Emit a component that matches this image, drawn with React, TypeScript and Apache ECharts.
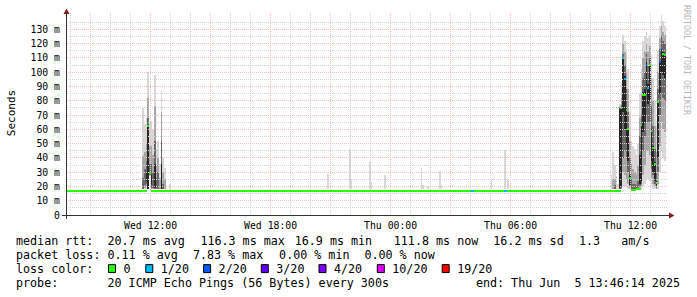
import { useEffect, useRef } from "react";
import * as echarts from "echarts";

// ---------- time frame (hours since Wed 00:00) ----------
const START_H = 7 + 46 / 60 + 14 / 3600; // Wed 07:46:14
const END_H = START_H + 30; // Thu 13:46:14
const STEP_H = 5 / 60; // 300 s step

// ---------- axes ----------
const yLabelValues = [0, 10, 20, 30, 40, 50, 60, 70, 80, 90, 100, 110, 120, 130];
const yGridValues = [5, 10, 15, 20, 25, 30, 35, 40, 45, 50, 55, 60, 65, 70, 75, 80, 85, 90, 95, 100, 105, 110, 115, 120, 125, 130, 135];
const xLabelHours = [12, 18, 24, 30, 36];
const xLabelTexts = ["Wed 12:00", "Wed 18:00", "Thu 00:00", "Thu 06:00", "Thu 12:00"];
const xGridHours = [8, 9, 10, 11, 12, 13, 14, 15, 16, 17, 18, 19, 20, 21, 22, 23, 24, 25, 26, 27, 28, 29, 30, 31, 32, 33, 34, 35, 36, 37];

// ---------- loss legend ----------
const lossColors = ["#26ff00", "#00b8ff", "#0059ff", "#5e00ff", "#7e00ff", "#dd00ff", "#ff0000"];
const lossLabels = ["0", "1/20", "2/20", "3/20", "4/20", "10/20", "19/20"];

// ---------- statistics text ----------
const rttStats = ["20.7 ms avg", "116.3 ms max", "16.9 ms min", "111.8 ms now", "16.2 ms sd", "1.3", "am/s"];
const lossStats = ["0.11 % avg", "7.83 % max", "0.00 % min", "0.00 % now"];
const probeText = "20 ICMP Echo Pings (56 Bytes) every 300s";
const endText = "end: Thu Jun  5 13:46:14 2025";

// ---------- median runs: [from, to, median ms, loss index] ----------
const baselineRuns: [string, string, number, number][] = [
  ["W 07:45", "W 11:50", 17.1, 0],
  ["W 12:00", "T 04:00", 17.1, 0],
  ["T 04:00", "T 04:10", 17.1, 1],
  ["T 04:10", "T 05:40", 17.1, 0],
  ["T 05:40", "T 05:50", 17.1, 1],
  ["T 05:50", "T 11:30", 17.1, 0],
];

// ---------- per-step medians: [step start, median ms, loss index] ----------
const stepMedians: [string, number, number][] = [
  ["W 11:50", 62, 0],
  ["W 11:55", 29.4, 0],
  ["T 11:30", 75, 0],
  ["T 11:35", 110, 1],
  ["T 11:40", 95, 1],
  ["T 11:45", 73.5, 0],
  ["T 11:50", 60, 0],
  ["T 11:55", 26, 0],
  ["T 12:00", 17.2, 0],
  ["T 12:05", 17.2, 0],
  ["T 12:10", 17.5, 0],
  ["T 12:15", 18.5, 0],
  ["T 12:20", 18.5, 0],
  ["T 12:25", 18.5, 0],
  ["T 12:30", 63, 0],
  ["T 12:35", 84, 0],
  ["T 12:40", 84, 0],
  ["T 12:45", 105, 2],
  ["T 12:50", 89, 1],
  ["T 12:55", 105, 0],
  ["T 13:00", 59, 0],
  ["T 13:05", 47, 0],
  ["T 13:10", 35.5, 0],
  ["T 13:15", 22.7, 0],
  ["T 13:20", 79, 0],
  ["T 13:25", 107, 2],
  ["T 13:30", 116, 2],
  ["T 13:35", 112.7, 0],
  ["T 13:40", 111.8, 0],
];

// ---------- smoke: [step start, outerLo, outerHi, midLo, midHi, innerLo, innerHi, coreLo, coreHi] ----------
type SmokeRow = [string, ...(number | null)[]];
const smokeSteps: SmokeRow[] = [
  ["W 11:35", 18, 75, 18, 41, 18, 26],
  ["W 11:40", 18, 64, 19, 44, 21, 32],
  ["W 11:45", 18, 68, 20, 50, 22, 38, 24, 30],
  ["W 11:50", 18, 100, 18, 82, 18, 68, 18, 63],
  ["W 11:55", 27, 66, 28, 48, 28, 36],
  ["W 12:00", 18, 66, 18, 48, 19, 36, 21, 28],
  ["W 12:05", 18, 60, 18, 42, 19, 30],
  ["W 12:10", 18, 98, 18, 76, 18, 52, 19, 36],
  ["W 12:15", 18, 46, 18, 34, 19, 26],
  ["W 12:20", 18, 52, 18, 40, 18, 30],
  ["W 12:25", 18, 36, 18, 26],
  ["W 12:30", 18, 87, 18, 72, 18, 52, 18, 36],
  ["W 12:35", 18, 40, 18, 30, 18, 22],
  ["W 12:40", 18, 33, 18, 25],
  ["W 12:55", 18, 22],
  ["W 20:50", 18, 29],
  ["W 21:55", 18, 46],
  ["W 22:00", 18, 25],
  ["W 22:55", 18, 37],
  ["W 23:00", 18, 23],
  ["W 23:40", 18, 28],
  ["T 01:30", 18, 33],
  ["T 01:35", 18, 21],
  ["T 01:50", 18, 20],
  ["T 02:25", 18, 31],
  ["T 02:30", 18, 21],
  ["T 05:00", 18, 25],
  ["T 05:40", 18, 45.5],
  ["T 05:50", 18, 24.5],
  ["T 11:00", 18, 28],
  ["T 11:05", 18, 44, 18, 25],
  ["T 11:10", 18, 35, 18, 25, 18, 21],
  ["T 11:15", 18, 27],
  ["T 11:20", 18, 22],
  ["T 11:25", 18, 78, 18, 76, 18, 75, 19, 74],
  ["T 11:30", 18, 92, 18, 82, 19, 77, 20, 75],
  ["T 11:35", 20, 126, 30, 120, 40, 113, 72, 110],
  ["T 11:40", 20, 122, 28, 114, 45, 105, 60, 97],
  ["T 11:45", 19, 116, 25, 100, 40, 88, 50, 75],
  ["T 11:50", 18, 102, 22, 88, 30, 72, 38, 61],
  ["T 11:55", 18, 72, 19, 52, 20, 40, 21, 28],
  ["T 12:00", 18, 52, 18, 36, 18, 25],
  ["T 12:05", 18, 48, 18, 32, 18, 22],
  ["T 12:10", 18, 46, 18, 30, 18, 22],
  ["T 12:15", 18, 42, 18, 28, 18, 21],
  ["T 12:20", 18, 50, 18, 34, 18, 24],
  ["T 12:25", 18, 85, 18, 68, 20, 55, 22, 42],
  ["T 12:30", 18, 102, 20, 85, 22, 70, 24, 64],
  ["T 12:35", 20, 122, 28, 110, 45, 96, 58, 86],
  ["T 12:40", 22, 125, 35, 114, 55, 100, 65, 88],
  ["T 12:45", 25, 128, 45, 120, 70, 113, 88, 107],
  ["T 12:50", 25, 124, 45, 114, 65, 104, 78, 92],
  ["T 12:55", 24, 126, 42, 118, 65, 110, 80, 106],
  ["T 13:00", 20, 112, 26, 95, 32, 76, 38, 60],
  ["T 13:05", 18, 96, 22, 80, 28, 62, 30, 48],
  ["T 13:10", 18, 80, 20, 62, 22, 46, 24, 37],
  ["T 13:15", 18, 62, 18, 44, 19, 30, 20, 24],
  ["T 13:20", 18, 115, 22, 100, 30, 88, 40, 80],
  ["T 13:25", 30, 132, 48, 124, 70, 116, 85, 108],
  ["T 13:30", 45, 140, 65, 132, 85, 125, 100, 117],
  ["T 13:35", 40, 136, 60, 128, 82, 122, 98, 114],
  ["T 13:40", 38, 132, 58, 126, 80, 120, 96, 113],
];

// ---------- styles ----------
const MONO = '"DejaVu Sans Mono", monospace';
const smokeColors = ["#d8d8d8", "#a6a6a6", "#686868", "#262626"];
const MAJOR_GRID = "#f4bcbc";
const MINOR_GRID = "#d2d2d2";
const AXIS_COLOR = "#333333";
const ARROW_COLOR = "#7f1f1f";
const LEG_FS = 11.7;

// ---------- layout of the legend block ----------
const rttX = [107.5, 200.4, 294.7, 393.8, 493.3, 579, 621.3];
const lossX = [107.5, 192.9, 279.1, 364.4];
const lossBoxX = [108.5, 145.8, 203.6, 261.3, 319, 377.3, 442.2];
const ROW_Y = [241, 255.3, 268.6, 282.8];

function parseT(s: string): number {
  const day = s[0] === "W" ? 0 : 24;
  const [hh, mm] = s.slice(2).split(":").map(Number);
  return day + hh + mm / 60;
}

function buildSmokeData() {
  const out: number[][] = [];
  smokeSteps.forEach((row) => {
    const t0 = parseT(row[0]);
    const t1 = t0 + STEP_H;
    for (let b = 0; b < 4; b++) {
      const lo = row[1 + 2 * b];
      const hi = row[2 + 2 * b];
      if (lo != null && hi != null) out.push([t0, t1, lo as number, hi as number, b]);
    }
  });
  return out;
}

function buildMedianData() {
  const out: number[][] = [];
  baselineRuns.forEach(([a, b, m, l]) => out.push([parseT(a), parseT(b), m, l]));
  stepMedians.forEach(([a, m, l]) => {
    const t0 = parseT(a);
    out.push([t0, t0 + STEP_H, m, l]);
  });
  return out;
}

function clipTo(params: any, shape: any) {
  const cs = params.coordSys;
  return echarts.graphic.clipRectByRect(shape, { x: cs.x, y: cs.y, width: cs.width, height: cs.height });
}

function buildOption(): any {
  const text = (x: number, y: number, t: string, extra: any = {}) => ({
    type: "text",
    x,
    y,
    z: 20,
    silent: true,
    style: {
      text: t,
      fill: "#000",
      fontFamily: MONO,
      fontSize: LEG_FS,
      verticalAlign: "middle",
      align: "left",
      ...extra,
    },
  });

  const graphic: any[] = [
    { type: "line", z: 20, silent: true, shape: { x1: 66.5, y1: 219, x2: 66.5, y2: 13 }, style: { stroke: AXIS_COLOR, lineWidth: 1 } },
    { type: "line", z: 20, silent: true, shape: { x1: 62, y1: 215.5, x2: 669, y2: 215.5 }, style: { stroke: AXIS_COLOR, lineWidth: 1 } },
    { type: "polygon", z: 21, silent: true, shape: { points: [[66.5, 8.5], [63.5, 14], [69.5, 14]] }, style: { fill: ARROW_COLOR } },
    { type: "polygon", z: 21, silent: true, shape: { points: [[674.5, 215.5], [669, 212.5], [669, 218.5]] }, style: { fill: ARROW_COLOR } },
    text(11.5, 113, "Seconds", { align: "center", fontSize: 11 }),
    text(687, 60, "RRDTOOL / TOBI OETIKER", { align: "center", fontSize: 8.3, fill: "#b8b8b8" }),
    text(16, ROW_Y[0], "median rtt:"),
    text(16, ROW_Y[1], "packet loss:"),
    text(16, ROW_Y[2], "loss color:"),
    text(16, ROW_Y[3], "probe:"),
    text(107.5, ROW_Y[3], probeText),
    text(680, ROW_Y[3], endText, { align: "right" }),
  ];
  graphic[4].rotation = Math.PI / 2;
  graphic[5].rotation = -Math.PI / 2;

  rttStats.forEach((s, i) => graphic.push(text(rttX[i], ROW_Y[0], s)));
  lossStats.forEach((s, i) => graphic.push(text(lossX[i], ROW_Y[1], s)));
  lossLabels.forEach((s, i) => {
    graphic.push({
      type: "rect",
      z: 20,
      silent: true,
      shape: { x: lossBoxX[i], y: ROW_Y[2] - 4, width: 7, height: 8 },
      style: { fill: lossColors[i], stroke: "#000", lineWidth: 1 },
    });
    graphic.push(text(lossBoxX[i] + 15, ROW_Y[2], s));
  });

  return {
    animation: false,
    backgroundColor: "#ffffff",
    grid: { left: 66, top: 15, width: 600, height: 200, containLabel: false },
    xAxis: {
      type: "value",
      min: START_H,
      max: END_H,
      axisLine: { show: false },
      axisTick: { show: false },
      splitLine: { show: false },
      axisLabel: {
        customValues: xLabelHours,
        formatter: (v: number) => {
          const i = xLabelHours.findIndex((h) => Math.abs(h - v) < 1e-6);
          return i >= 0 ? xLabelTexts[i] : "";
        },
        fontFamily: MONO,
        fontSize: 9.8,
        color: "#000",
        margin: 4,
        lineHeight: 12,
      },
    },
    yAxis: {
      type: "value",
      min: 0,
      max: 140,
      interval: 10,
      axisLine: { show: false },
      axisTick: { show: false },
      splitLine: { show: false },
      axisLabel: {
        customValues: yLabelValues,
        formatter: (v: number) => (v === 0 ? "0" : `${v} m`),
        fontFamily: MONO,
        fontSize: 9.8,
        color: "#000",
        margin: 6,
      },
    },
    graphic,
    series: [
      {
        type: "custom",
        name: "smoke",
        z: 1,
        silent: true,
        data: buildSmokeData(),
        encode: { x: [0, 1], y: [2, 3] },
        renderItem: (params: any, api: any) => {
          const a = api.coord([api.value(0), api.value(3)]);
          const b = api.coord([api.value(1), api.value(2)]);
          const x0 = Math.round(a[0]);
          const x1 = Math.round(b[0]);
          const y0 = Math.round(a[1]);
          const y1 = Math.round(b[1]);
          const shape = clipTo(params, { x: x0, y: y0, width: x1 - x0, height: y1 - y0 });
          if (!shape) return null;
          return { type: "rect", shape, style: { fill: smokeColors[api.value(4)] } };
        },
      },
      {
        type: "custom",
        name: "vgrid",
        z: 3,
        silent: true,
        data: xGridHours.map((h) => [h, 0]),
        encode: { x: 0, y: 1 },
        renderItem: (params: any, api: any) => {
          const cs = params.coordSys;
          const h = api.value(0);
          const x = Math.floor(api.coord([h, 0])[0]) + 0.5;
          return {
            type: "line",
            shape: { x1: x, y1: cs.y - 2, x2: x, y2: cs.y + cs.height + 2 },
            style: { stroke: h % 3 === 0 ? MAJOR_GRID : MINOR_GRID, lineWidth: 1, lineDash: [1, 1] },
          };
        },
      },
      {
        type: "custom",
        name: "hgrid",
        z: 3,
        silent: true,
        data: yGridValues.map((v) => [START_H, v]),
        encode: { x: 0, y: 1 },
        renderItem: (params: any, api: any) => {
          const cs = params.coordSys;
          const v = api.value(1);
          const y = Math.floor(api.coord([START_H, v])[1]) + 0.5;
          return {
            type: "line",
            shape: { x1: cs.x, y1: y, x2: cs.x + cs.width + 1, y2: y },
            style: { stroke: v % 10 === 0 ? MAJOR_GRID : MINOR_GRID, lineWidth: 1, lineDash: [1, 1] },
          };
        },
      },
      {
        type: "custom",
        name: "median",
        z: 6,
        silent: true,
        data: buildMedianData(),
        encode: { x: [0, 1], y: 2 },
        renderItem: (params: any, api: any) => {
          const a = api.coord([api.value(0), api.value(2)]);
          const b = api.coord([api.value(1), api.value(2)]);
          const x0 = Math.round(a[0]);
          const x1 = Math.round(b[0]);
          const yc = Math.round(a[1]);
          const shape = clipTo(params, { x: x0, y: yc - 1, width: x1 - x0, height: 2 });
          if (!shape) return null;
          return { type: "rect", shape, style: { fill: lossColors[api.value(3)] } };
        },
      },
    ],
  };
}

export default function App() {
  const ref = useRef<HTMLDivElement>(null);
  useEffect(() => {
    if (!ref.current) return;
    const chart = echarts.init(ref.current, null, { renderer: "svg", width: 697, height: 297 });
    chart.setOption(buildOption());
    return () => chart.dispose();
  }, []);
  return (
    <div
      ref={ref}
      style={{ position: "absolute", left: 0, top: 0, width: 697, height: 297, background: "#fff" }}
    />
  );
}
